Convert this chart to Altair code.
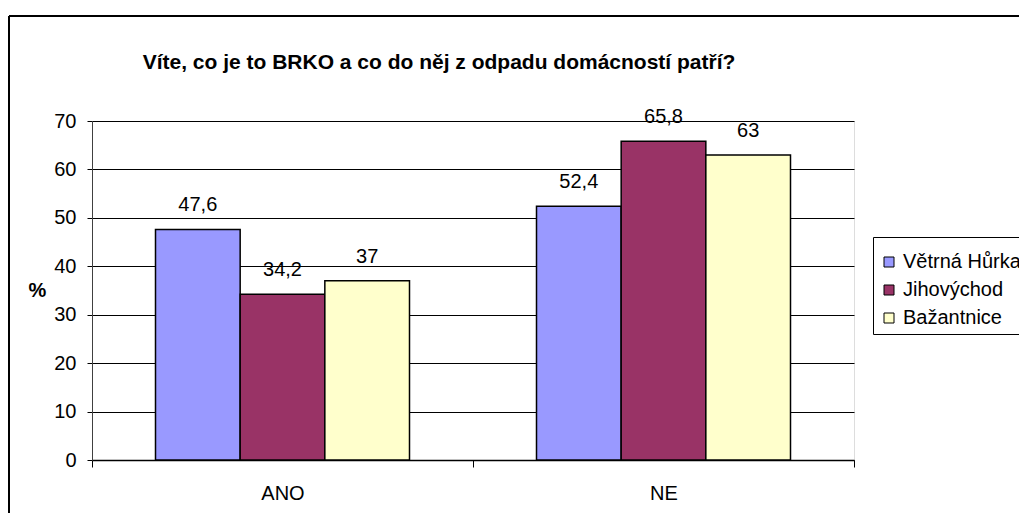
import altair as alt
import pandas as pd

categories = ["ANO", "NE"]
series = ["Větrná Hůrka", "Jihovýchod", "Bažantnice"]
vetrna = [47.6, 52.4]
jihovychod = [34.2, 65.8]
bazantnice = [37, 63]
colors = ["#9999FF", "#993366", "#FFFFCC"]

rows = []
for s, vals in zip(series, [vetrna, jihovychod, bazantnice]):
    for c, v in zip(categories, vals):
        rows.append({"kat": c, "serie": s, "hodnota": v,
                     "popis": (f"{v:g}").replace(".", ",")})
df = pd.DataFrame(rows)

FONT = "Liberation Sans"
FS = 20
W, H = 762, 339

x = alt.X("kat:N", sort=categories, title=None,
          scale=alt.Scale(paddingInner=0, paddingOuter=0),
          axis=alt.Axis(labelAngle=0, tickBand="extent", tickSize=7, tickColor="#000000",
                        domainColor="#000000", domainWidth=1.5, labelFontSize=FS,
                        labelPadding=16, labelColor="#000000", grid=False, labelFont=FONT))
xo = alt.XOffset("serie:N", sort=series,
                 scale=alt.Scale(paddingInner=0, paddingOuter=0.75))
y = alt.Y("hodnota:Q", title="%",
          scale=alt.Scale(domain=[0, 70], nice=False),
          axis=alt.Axis(values=[0, 10, 20, 30, 40, 50, 60, 70], tickSize=5, tickColor="#000000",
                        domainColor="#404040", labelFontSize=FS, labelPadding=11,
                        labelColor="#000000", gridColor="#000000", gridWidth=1,
                        titleAngle=0, titleFontSize=FS, titleFontWeight="bold",
                        titleX=-55, titleY=H / 2, titleAlign="center", titleBaseline="middle",
                        labelFont=FONT, titleFont=FONT))

bars = alt.Chart(df).mark_bar(stroke="#000000", strokeWidth=1.5).encode(
    x=x, xOffset=xo, y=y,
    color=alt.Color("serie:N", sort=series,
                    scale=alt.Scale(domain=series, range=colors),
                    legend=alt.Legend(title=" ", titleFontSize=1, titlePadding=8,
                                      orient="none", legendX=781, legendY=116,
                                      symbolType="square", symbolSize=100,
                                      symbolStrokeColor="#000000", symbolStrokeWidth=1,
                                      labelFontSize=FS, labelFont=FONT, labelColor="#000000",
                                      fillColor="#FFFFFF", strokeColor="#000000",
                                      padding=6, rowPadding=8, labelOffset=4,
                                      labelLimit=300)),
)

labels = alt.Chart(df).mark_text(dy=-18, fontSize=FS, font=FONT, color="#000000",
                                 baseline="alphabetic").encode(
    x=alt.X("kat:N", sort=categories), xOffset=xo, y=alt.Y("hodnota:Q"),
    text="popis:N",
)

border_left = alt.Chart(df).mark_rule(color="#000000", strokeWidth=1.5, clip=False).encode(
    x=alt.value(-83), y=alt.value(-105), y2=alt.value(600))
border_top = alt.Chart(df).mark_rule(color="#000000", strokeWidth=1.5, clip=False).encode(
    x=alt.value(-83), x2=alt.value(1200), y=alt.value(-105))

chart = alt.layer(bars, labels, border_left, border_top).properties(
    width=W, height=H,
    title=alt.TitleParams("Víte, co je to BRKO a co do něj z odpadu domácností patří?",
                          fontSize=21, fontWeight="bold", font=FONT, color="#000000",
                          anchor="middle", dx=-34, offset=-58),
    autosize=alt.AutoSizeParams(type="none"),
    padding={"left": 84, "top": 113, "right": 165, "bottom": 53},
).configure_view(fill="#C0C0C0", stroke="#808080", strokeWidth=1.5).configure(
    background="#FFFFFF")

chart.save("out.html", embed_options={"renderer": "svg", "actions": False})
